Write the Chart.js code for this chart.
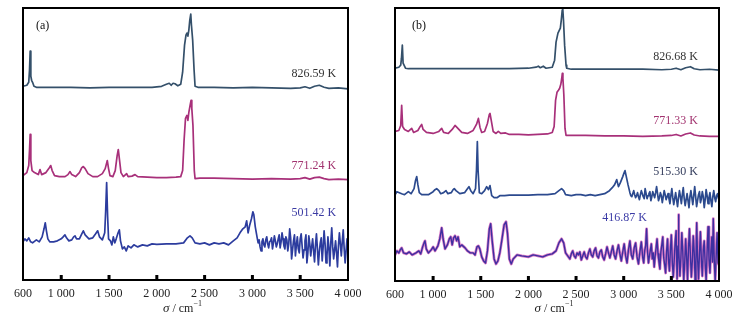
<!DOCTYPE html>
<html>
<head>
<meta charset="utf-8">
<script src="https://cdn.jsdelivr.net/npm/chart.js@4/dist/chart.umd.min.js"></script>
<style>
html,body{margin:0;padding:0;background:#fff;}
#wrap{position:relative;width:741px;height:321px;}
.pane{position:absolute;top:0;height:321px;}
#pa{left:0;width:370px;}
#pb{left:370px;width:371px;}
</style>
</head>
<body>
<div id="wrap">
	<div class="pane" id="pa"><canvas id="chartA" width="370" height="321"></canvas></div>
	<div class="pane" id="pb"><canvas id="chartB" width="371" height="321"></canvas></div>
</div>
<script>
// wavenumber ticks (cm-1)
var sigmaTicks = [600, 1000, 1500, 2000, 2500, 3000, 3500, 4000];

// vertical offsets of the stacked spectra (arbitrary units)
var offsetsA = [192, 103, 39];
var offsetsB = [212, 147, 86, 27];

// panel (a) spectra: [sigma, intensity above own baseline]
var specA_826 = [[600,1],[640,2],[660,5],[668,17],[675,36],[682,11],[690,7],[700,5],[715,1],[740,0],[900,0],[1100,0],[1300,-0.5],[1500,0],[1800,0],[1950,0],[2050,1],[2100,3],[2130,4],[2150,2],[2170,4],[2190,3.5],[2220,1.5],[2250,3],[2270,15],[2290,42],[2305,52],[2315,54],[2325,51],[2335,57],[2345,67],[2355,73],[2362,62],[2375,47],[2390,17],[2400,1],[2430,0],[2600,0],[2800,-0.5],[3000,0],[3200,-0.5],[3400,-1],[3500,-0.5],[3550,0.5],[3600,-1],[3650,1],[3700,2],[3750,0],[3800,-1],[3900,-0.5],[4000,-1.5]];

var specA_771 = [[600,1],[640,4],[660,11],[668,26],[675,42],[682,16],[695,6],[720,4],[760,2],[778,7],[795,2],[840,4],[870,8],[890,11],[905,6],[930,1],[980,0],[1040,0],[1070,2],[1092,5],[1110,2],[1150,0],[1190,4],[1215,9],[1231,10],[1250,8],[1280,3],[1330,0],[1380,0],[1430,3],[1460,8],[1482,16],[1495,8],[1510,1],[1540,0],[1565,6],[1585,21],[1597,27],[1608,18],[1625,4],[1650,0],[1684,3],[1700,0],[1740,0.5],[1772,2],[1800,0],[1900,-0.5],[2000,-1],[2100,-1],[2200,-0.5],[2250,0],[2270,6],[2285,36],[2300,58],[2315,61],[2325,56],[2335,64],[2350,72],[2358,76],[2366,68],[2378,51],[2392,6],[2400,-2],[2450,-1.5],[2600,-1.5],[2800,-2],[3000,-2.5],[3200,-2],[3400,-2.5],[3500,-2],[3550,-1],[3600,-2.5],[3650,-1],[3700,-0.5],[3750,-2],[3800,-3],[3900,-2.5],[4000,-3]];

var specA_501 = [[600,-1],[620,2],[640,0],[660,3],[680,-1],[700,-2],[740,1],[770,-1],[800,4],[820,12],[833,18],[845,10],[860,2],[880,-1],[920,-1],[960,0],[1000,2],[1020,4],[1039,6],[1055,3],[1080,0],[1110,1],[1130,4],[1144,5],[1160,2],[1190,2],[1215,7],[1231,10],[1250,6],[1290,2],[1330,3],[1360,7],[1381,10],[1400,4],[1430,1],[1455,8],[1465,30],[1475,58],[1485,25],[1495,2],[1515,0],[1530,-4],[1545,4],[1560,-2],[1575,2],[1595,8],[1608,11],[1620,0],[1640,-8],[1660,-6],[1680,-10],[1700,-5],[1730,-7],[1760,-4],[1800,-6],[1850,-4],[1900,-5],[1950,-3],[2000,-3.5],[2100,-3],[2200,-3],[2280,-2],[2320,3],[2347,5],[2370,3],[2400,-2],[2450,-3],[2500,-2],[2550,-4],[2600,-2],[2650,-3],[2700,-2],[2750,-4],[2800,0],[2840,3],[2870,8],[2900,12],[2925,14],[2940,20],[2955,8],[2970,15],[2990,22],[3005,29],[3015,26],[3030,14],[3050,3],
	[3060,-2],[3070,1],[3080,-6],[3090,-10],[3100,-1],[3110,2],[3120,-4],[3130,-6],[3140,1],[3150,4],[3160,-3],[3170,-7],[3180,-1],[3190,0],[3200,3],[3210,-8],[3220,-2],[3230,5],[3240,0],[3250,-6],[3260,-3],[3270,2],[3280,6],[3290,-7],[3300,-1],[3310,8],[3320,2],[3330,-5],[3340,-8],[3350,4],[3360,1],[3370,-10],[3380,-3],[3390,12],[3400,3],[3410,-18],[3420,-9],[3430,0],[3440,6],[3450,-15],[3460,-4],[3470,4],[3480,-8],[3490,-12],[3500,2],[3510,7],[3520,-5],[3530,-17],[3540,-9],[3550,0],[3560,6],[3570,-22],[3580,-12],[3590,5],[3600,-3],[3610,-15],[3620,-6],[3630,2],[3640,-10],[3650,-21],[3660,-4],[3670,7],[3680,-8],[3690,-24],[3700,-11],[3710,-2],[3720,3],[3730,-20],[3740,-6],[3750,10],[3760,-3],[3770,-22],[3780,-15],[3790,4],[3800,-7],[3810,-25],[3820,-2],[3830,13],[3840,-6],[3850,-18],[3860,-9],[3870,0],[3880,-12],[3890,-26],[3900,-5],[3910,8],[3920,-3],[3930,-15],[3940,-1],[3950,11],[3960,-8],[3970,-22],[3980,-10],[3990,2],[4000,-10]];

// panel (b) spectra
var specB_826 = [[600,0],[640,1],[660,3],[668,10],[677,23],[685,5],[695,3],[710,0],[740,-0.5],[900,-0.5],[1200,-0.5],[1500,-0.5],[1800,-0.5],[2000,0],[2080,1],[2104,2],[2125,0.5],[2156,2],[2185,0],[2250,1],[2275,8],[2290,26],[2310,35],[2325,38],[2335,40],[2345,48],[2355,58],[2360,60],[2368,48],[2380,23],[2395,3],[2402,0],[2450,-1],[2600,-1],[2800,-1],[3000,-1],[3200,-1],[3400,-1.5],[3500,-1],[3550,0],[3600,-1.5],[3650,0.5],[3700,1.5],[3740,-0.5],[3800,-1.5],[3900,-1],[4000,-2]];

var specB_771 = [[600,2],[640,3],[660,8],[670,28],[680,7],[700,4],[740,2],[775,5],[795,1],[840,3],[865,7],[880,9],[895,4],[930,1],[1000,0],[1060,2],[1090,5],[1110,1],[1160,0],[1200,4],[1230,8],[1260,5],[1300,1],[1360,0],[1420,3],[1455,9],[1475,15],[1492,6],[1510,1],[1540,2],[1570,10],[1590,19],[1597,20],[1610,13],[1630,2],[1660,0],[1684,2],[1710,0],[1760,0.5],[1800,-1],[1900,-1],[2000,-1.5],[2100,-1],[2200,-0.5],[2250,1],[2270,7],[2285,33],[2300,41],[2315,43],[2328,45],[2340,49],[2350,55],[2356,60],[2362,55],[2372,38],[2384,5],[2395,-2],[2450,-2],[2600,-2],[2800,-2.5],[3000,-2.5],[3200,-3],[3400,-2.5],[3500,-2],[3550,-1],[3600,-2.5],[3650,-0.5],[3700,0.5],[3740,-1.5],[3800,-2.5],[3900,-3],[4000,-3]];

var specB_515 = [[600,0],[620,3],[645,2],[670,1],[700,0],[740,3],[770,1],[800,6],[815,14],[828,18],[840,10],[855,2],[880,0],[950,0],[1000,3],[1020,5],[1037,6],[1060,4],[1080,1],[1110,2],[1135,4],[1155,1],[1190,2],[1210,5],[1222,6],[1240,4],[1280,1],[1330,2],[1360,6],[1376,8],[1395,4],[1420,1],[1445,6],[1455,24],[1464,53],[1472,24],[1485,2],[1510,1],[1540,4],[1562,8],[1580,5],[1597,9],[1615,-1],[1640,-3],[1670,-3],[1700,-1],[1750,-1],[1800,-0.5],[1900,-0.5],[2000,-0.5],[2100,0],[2200,0],[2280,1],[2320,4],[2348,6],[2370,4],[2390,0],[2450,-1],[2500,0],[2550,0],[2600,-1],[2650,0],[2700,-1],[2750,0],[2800,1],[2850,4],[2880,7],[2905,10],[2927,15],[2945,8],[2965,12],[2990,18],[3005,22],[3014,24],[3025,19],[3045,10],[3065,2],
	[3075,-1],[3085,-2],[3095,1],[3105,4],[3115,0],[3125,-3],[3135,-1],[3145,2],[3155,-2],[3165,-5],[3175,0],[3185,4],[3195,1],[3205,-2],[3215,-4],[3225,6],[3235,1],[3245,-4],[3255,-1],[3265,1],[3275,3],[3285,-6],[3295,-2],[3305,3],[3315,0],[3325,-3],[3335,2],[3345,8],[3355,1],[3365,-6],[3375,-3],[3385,2],[3395,-1],[3405,-8],[3415,-2],[3425,4],[3435,0],[3445,-5],[3455,-2],[3465,1],[3475,-4],[3485,-9],[3495,-1],[3505,6],[3515,-3],[3525,-10],[3535,-4],[3545,2],[3555,-5],[3565,-12],[3575,-3],[3585,4],[3595,-2],[3605,-9],[3615,0],[3625,7],[3635,-4],[3645,-11],[3655,-5],[3665,1],[3675,-6],[3685,-13],[3695,-2],[3705,4],[3715,-3],[3725,-10],[3735,-1],[3745,8],[3755,-2],[3765,-12],[3775,-6],[3785,0],[3795,3],[3805,-8],[3815,-4],[3825,3],[3835,-2],[3845,-13],[3855,-5],[3865,5],[3875,-1],[3885,-9],[3895,-3],[3905,2],[3915,-6],[3925,-12],[3935,-2],[3945,4],[3955,-3],[3965,-7],[3975,-1],[3985,1],[3995,-4],[4000,-3]];

var specB_416 = [[600,-1],[620,3],[640,1],[655,4],[670,6],[690,1],[720,0],[750,2],[780,-1],[820,1],[850,3],[870,0],[890,7],[905,11],[915,13],[928,5],[950,1],[980,4],[1000,7],[1020,3],[1050,8],[1070,15],[1090,26],[1105,15],[1125,5],[1150,9],[1170,15],[1185,17],[1200,9],[1215,16],[1230,18],[1247,13],[1262,17],[1280,7],[1300,9],[1335,6],[1360,3],[1390,1],[1420,1],[1440,-1],[1460,7],[1475,8],[1490,5],[1510,-3],[1530,-7],[1550,-9],[1570,3],[1590,25],[1604,30],[1620,13],[1640,-5],[1660,-10],[1680,-7],[1700,1],[1720,13],[1745,29],[1765,32],[1780,21],[1800,-5],[1820,-10],[1840,-5],[1880,-1],[1930,-2],[2000,-3],[2050,-1],[2100,-2],[2150,-3],[2200,-1],[2250,0],[2290,3],[2320,11],[2348,15],[2370,11],[2390,1],
	[2405,-1],[2420,-3],[2435,-5],[2450,0],[2465,3],[2480,-2],[2495,-4],[2510,1],[2525,-1],[2540,2],[2555,-6],[2570,-2],[2585,2],[2600,-3],[2615,-5],[2630,1],[2645,5],[2660,-1],[2675,-3],[2690,3],[2705,6],[2720,-2],[2735,-4],[2750,2],[2765,4],[2780,-3],[2795,-6],[2810,0],[2825,7],[2840,1],[2855,-4],[2870,2],[2885,8],[2900,-1],[2915,-5],[2930,3],[2945,9],[2960,0],[2975,-7],[2990,2],[3005,10],[3020,-2],[3035,-9],[3050,4],[3065,13],[3080,-1],[3095,-5],[3110,6],[3125,11],[3140,-3],[3155,-10],[3170,2],[3185,12],[3200,-4],
	[3210,-9],[3220,3],[3230,8],[3240,25],[3250,2],[3260,-9],[3270,-2],[3280,4],[3290,10],[3300,-5],[3310,1],[3320,-13],[3330,-2],[3340,6],[3350,15],[3360,0],[3370,-8],[3380,-15],[3390,2],[3400,9],[3410,17],[3420,-4],[3430,-11],[3440,-19],[3450,3],[3460,15],[3470,-6],[3480,-17],[3490,4],[3500,19],[3510,-8],[3520,-23],[3530,-6],[3540,12],[3550,23],[3560,-25],[3570,8],[3574,39],[3580,5],[3590,-22],[3600,-4],[3610,21],[3620,2],[3630,-27],[3640,-9],[3650,15],[3660,-3],[3670,-26],[3680,6],[3690,25],[3700,-2],[3710,-23],[3720,-7],[3730,18],[3740,1],[3750,-27],[3758,-8],[3766,31],[3775,-4],[3785,-25],[3795,0],[3805,22],[3815,-6],[3825,-22],[3835,4],[3845,13],[3855,-10],[3865,-27],[3875,2],[3885,27],[3895,-5],[3905,-19],[3915,3],[3925,17],[3932,-8],[3940,35],[3950,-6],[3960,-27],[3970,-3],[3980,21],[3990,-9],[4000,-11]];

// text labels: [text, sigma, y, colour, align]
var labelsA = [['(a)',736,253,'#111','left'],['826.59 K',3875,205,'#333','right'],['771.24 K',3875,114,'#a2336f','right'],['501.42 K',3875,67,'#3b3ba3','right']];
var labelsB = [['(b)',778,254,'#111','left'],['826.68 K',3780,223,'#333','right'],['771.33 K',3780,160,'#a2336f','right'],['515.30 K',3780,109,'#333c5c','right'],['416.87 K',3244,63,'#3b3ba6','right']];

var serif = 'Liberation Serif, Times New Roman, serif';

function toPoints(pairs, off){
	return pairs.map(function(p){ return {x:p[0], y:p[1] + off}; });
}

function fmtSigma(v){
	var s = String(v);
	return s.length > 3 ? s.slice(0, s.length-3) + ' ' + s.slice(-3) : s;
}

var framePlugin = {
	id:'frame',
	afterDraw:function(chart, args, opts){
		var ctx = chart.ctx, a = chart.chartArea, xs = chart.scales.x, ys = chart.scales.y;
		ctx.save();
		// frame
		ctx.lineWidth = 2;
		ctx.strokeStyle = '#000';
		ctx.strokeRect(a.left, a.top, a.right - a.left, a.bottom - a.top);
		// inward tick marks
		ctx.fillStyle = '#000';
		for (var i = 1; i < sigmaTicks.length - 1; i++){
			var px = xs.getPixelForValue(sigmaTicks[i]);
			ctx.fillRect(px - 1.5, a.bottom - 5, 3, 5);
		}
		// labels
		ctx.font = '12px ' + serif;
		ctx.textBaseline = 'middle';
		opts.labels.forEach(function(l){
			ctx.fillStyle = l[3];
			ctx.textAlign = l[4];
			ctx.fillText(l[0], xs.getPixelForValue(l[1]), ys.getPixelForValue(l[2]));
		});
		// axis title: sigma / cm^-1
		var cx = (a.left + a.right) / 2 - 3, ty = 309;
		ctx.fillStyle = '#222';
		ctx.textAlign = 'left';
		ctx.font = 'italic 13px ' + serif;
		var w1 = ctx.measureText('\u03c3').width;
		ctx.font = '12px ' + serif;
		var w2 = ctx.measureText(' / cm').width;
		ctx.font = '8px ' + serif;
		var w3 = ctx.measureText('\u22121').width;
		var x0 = cx - (w1 + w2 + w3) / 2;
		ctx.font = 'italic 13px ' + serif;
		ctx.fillText('\u03c3', x0, ty);
		ctx.font = '12px ' + serif;
		ctx.fillText(' / cm', x0 + w1, ty);
		ctx.font = '8px ' + serif;
		ctx.fillText('\u22121', x0 + w1 + w2, ty - 5);
		ctx.restore();
	}
};

function makeChart(id, datasets, labels, pad, ymax){
	var ctx = document.getElementById(id).getContext('2d');
	return new Chart(ctx, {
		type:'line',
		data:{datasets:datasets},
		options:{
			responsive:false,
			animation:false,
			devicePixelRatio:1,
			layout:{padding:pad},
			elements:{point:{radius:0}, line:{tension:0, borderJoinStyle:'round', borderWidth:1.7}},
			plugins:{legend:{display:false}, tooltip:{enabled:false}, frame:{labels:labels}},
			scales:{
				x:{
					type:'linear', min:600, max:4000,
					afterBuildTicks:function(s){ s.ticks = sigmaTicks.map(function(v){ return {value:v}; }); },
					grid:{display:false, drawTicks:false, tickLength:0},
					border:{display:false},
					ticks:{autoSkip:false, maxRotation:0, padding:7, color:'#222', font:{family:serif, size:12}, callback:function(v){ return fmtSigma(v); }}
				},
				y:{display:false, min:0, max:ymax}
			}
		},
		plugins:[framePlugin]
	});
}

// note: first dataset is painted on top
var dsA = [
	{data:toPoints(specA_826, offsetsA[0]), borderColor:'#34506a'},
	{data:toPoints(specA_771, offsetsA[1]), borderColor:'#a8307a'},
	{data:toPoints(specA_501, offsetsA[2]), borderColor:'#2c3c9e'}
];
var dsB = [
	{data:toPoints(specB_826, offsetsB[0]), borderColor:'#34506a'},
	{data:toPoints(specB_771, offsetsB[1]), borderColor:'#a8307a'},
	{data:toPoints(specB_515, offsetsB[2]), borderColor:'#2c4a8e'},
	{data:toPoints(specB_416, offsetsB[3]), borderColor:'#3d2fa0', borderWidth:1.4},
	{data:toPoints(specB_416, offsetsB[3]), borderColor:'#d877c4', borderWidth:2.8}
];

makeChart('chartA', dsA, labelsA, {left:23, right:22, top:8, bottom:12.6}, 271);
makeChart('chartB', dsB, labelsB, {left:25, right:22, top:8, bottom:11.6}, 272);
</script>
</body>
</html>
